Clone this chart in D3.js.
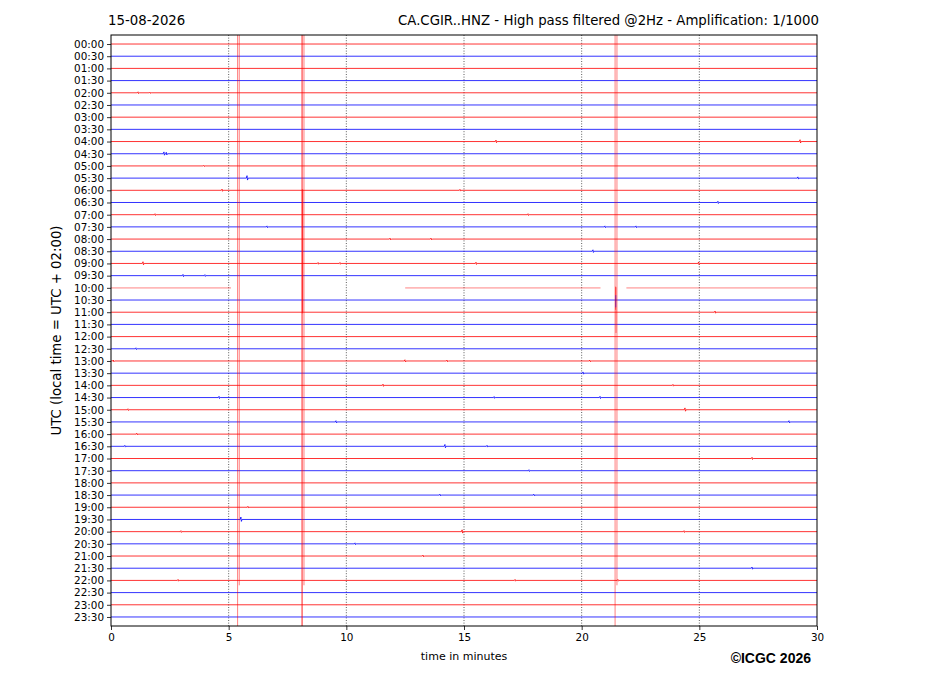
<!DOCTYPE html>
<html>
<head>
<meta charset="utf-8">
<script src="https://cdn.jsdelivr.net/npm/d3@7"></script>
<style>
  body { margin: 0; background: #fff; }
  text { font-family: "DejaVu Sans", sans-serif; }
</style>
</head>
<body>
<div id="helicorder"></div>
<script>
// one row per half hour
const rowLabels = ["00:00","00:30","01:00","01:30","02:00","02:30","03:00","03:30",
  "04:00","04:30","05:00","05:30","06:00","06:30","07:00","07:30",
  "08:00","08:30","09:00","09:30","10:00","10:30","11:00","11:30",
  "12:00","12:30","13:00","13:30","14:00","14:30","15:00","15:30",
  "16:00","16:30","17:00","17:30","18:00","18:30","19:00","19:30",
  "20:00","20:30","21:00","21:30","22:00","22:30","23:00","23:30"];

const minuteTicks = [0, 5, 10, 15, 20, 25, 30];
const gridMinutes = [5, 10, 15, 20, 25];

// recorded stretches (minutes) for rows with gaps
const gaps = [
  {row: 20, segments: [[0, 5.1], [12.5, 20.8], [21.9, 30]]}
];

// small wiggles: [row, minute, amplitude in row units]
const blips = [
  [4, 1.15, 0.08], [4, 1.66, 0.06],
  [8, 16.36, 0.12], [8, 29.28, 0.15],
  [9, 2.25, 0.15], [9, 2.35, 0.12],
  [10, 3.95, 0.06],
  [11, 5.78, 0.2], [11, 29.19, 0.1],
  [12, 4.72, 0.1], [12, 14.83, 0.08],
  [13, 25.79, 0.1],
  [14, 1.87, 0.08], [14, 17.72, 0.08],
  [15, 6.63, 0.08], [15, 20.99, 0.08], [15, 22.31, 0.08],
  [16, 11.86, 0.08], [16, 13.6, 0.08],
  [17, 20.48, 0.12],
  [18, 1.36, 0.14], [18, 8.8, 0.08], [18, 9.73, 0.08], [18, 15.51, 0.1], [18, 24.97, 0.12],
  [19, 3.06, 0.1], [19, 3.99, 0.08],
  [22, 25.67, 0.1],
  [25, 1.06, 0.08],
  [26, 0.1, 0.08], [26, 12.49, 0.1], [26, 14.28, 0.08], [26, 20.35, 0.08],
  [27, 20.06, 0.1],
  [28, 11.56, 0.1], [28, 23.88, 0.08],
  [29, 4.59, 0.1], [29, 16.28, 0.08], [29, 20.78, 0.1],
  [30, 0.72, 0.08], [30, 24.39, 0.15],
  [31, 9.56, 0.1], [31, 28.81, 0.1],
  [32, 1.1, 0.08],
  [33, 0.59, 0.08], [33, 14.19, 0.15], [33, 15.98, 0.08],
  [34, 27.24, 0.1],
  [35, 17.76, 0.08],
  [37, 13.98, 0.08], [37, 17.97, 0.08],
  [38, 5.82, 0.08],
  [39, 5.52, 0.2],
  [40, 2.97, 0.08], [40, 14.92, 0.15], [40, 24.35, 0.08],
  [41, 10.37, 0.08],
  [42, 13.26, 0.08],
  [43, 27.24, 0.1],
  [44, 2.85, 0.08], [44, 17.17, 0.08], [44, 21.54, 0.08]
];

// large excursions: [row, minute, up, down] in row units
const spikes = [
  [0, 5.38, 0.74, 47.74],
  [44, 5.45, 44.74, 0.4],
  [0, 8.12, 0.74, 47.74], [0, 8.12, 0.74, 47.74],
  [44, 8.2, 44.74, 0.4],
  [12, 8.13, 0.1, 10.1], [12, 8.15, 0.05, 10.0],
  [0, 21.42, 0.74, 47.74],
  [44, 21.5, 44.74, 0.4],
  [20, 21.44, 0.1, 1.8], [20, 21.46, 0.05, 3.7],
  [21, 21.45, 0.4, 0.6]
];

const rowColors = ["#ff0000", "#0000ff"];

const width = 927, height = 696;
const margin = {top: 35, left: 111, bottom: 70, right: 110};
const plotWidth = width - margin.left - margin.right;
const plotHeight = height - margin.top - margin.bottom;

const svg = d3.select("#helicorder").append("svg")
    .attr("width", width)
    .attr("height", height);

const plot = svg.append("g")
    .attr("transform", "translate(" + margin.left + "," + margin.top + ")");

let xScale = d3.scaleLinear()
    .domain([0, 30])
    .range([0, plotWidth]);

let yScale = d3.scaleLinear()
    .domain([-0.74, rowLabels.length - 1 + 0.74])
    .range([0, plotHeight]);

plot.append("defs").append("clipPath")
    .attr("id", "plotClip")
    .append("rect")
    .attr("width", plotWidth)
    .attr("height", plotHeight);

// dotted minute grid
plot.append("g").selectAll("line")
    .data(gridMinutes)
    .enter()
    .append("line")
    .attr("x1", d => xScale(d))
    .attr("x2", d => xScale(d))
    .attr("y1", 0)
    .attr("y2", plotHeight)
    .attr("stroke", "#333")
    .attr("stroke-width", 0.8)
    .attr("stroke-dasharray", "1,1.6");

let line = d3.line()
    .x(d => xScale(d[0]))
    .y(d => yScale(d[1]));

function tracePoints(row) {
    let gap = gaps.find(g => g.row === row);
    let segs = gap ? gap.segments : [[0, 30]];
    return segs.map(function (s) {
        let pts = [[s[0], row]];
        blips.filter(b => b[0] === row && b[1] > s[0] && b[1] < s[1])
            .sort((a, b) => a[1] - b[1])
            .forEach(function (b) {
                pts.push([b[1] - 0.03, row]);
                pts.push([b[1], row - b[2]]);
                pts.push([b[1] + 0.02, row + b[2] * 0.8]);
                pts.push([b[1] + 0.05, row]);
            });
        pts.push([s[1], row]);
        return pts;
    });
}

let traces_g = plot.append("g")
    .attr("clip-path", "url(#plotClip)");

rowLabels.forEach(function (label, row) {
    let hasGap = gaps.some(g => g.row === row);
    traces_g.selectAll("path.row" + row)
        .data(tracePoints(row))
        .enter()
        .append("path")
        .attr("class", "row" + row)
        .attr("d", line)
        .attr("fill", "none")
        .attr("stroke", rowColors[row % 2])
        .attr("stroke-opacity", hasGap ? 0.28 : 0.8)
        .attr("stroke-width", hasGap ? 1.6 : 1);
});

traces_g.selectAll("path.spike")
    .data(spikes)
    .enter()
    .append("path")
    .attr("class", "spike")
    .attr("d", d => line([[d[1], d[0] - d[2]], [d[1], d[0] + d[3]]]))
    .attr("fill", "none")
    .attr("stroke", d => rowColors[d[0] % 2])
    .attr("stroke-opacity", 0.5)
    .attr("stroke-width", 1);

// axes
let yAxis = plot.append("g")
    .attr("class", "axis_y")
    .call(d3.axisLeft(yScale)
        .tickValues(d3.range(rowLabels.length))
        .tickFormat(i => rowLabels[i])
        .tickSize(4)
        .tickPadding(3));

let xAxis = plot.append("g")
    .attr("class", "axis_x")
    .attr("transform", "translate(0," + plotHeight + ")")
    .call(d3.axisBottom(xScale)
        .tickValues(minuteTicks)
        .tickFormat(d3.format("d"))
        .tickSize(4)
        .tickPadding(4));

plot.selectAll(".domain").remove();
plot.selectAll(".tick line").attr("stroke", "#000").attr("stroke-width", 0.8);
plot.selectAll(".tick text")
    .attr("fill", "#000")
    .style("font-size", "10.4px")
    .style("font-family", "DejaVu Sans, sans-serif");

plot.append("rect")
    .attr("width", plotWidth)
    .attr("height", plotHeight)
    .attr("fill", "none")
    .attr("stroke", "#000")
    .attr("stroke-width", 1);

// labels
svg.append("text")
    .attr("x", margin.left - 3)
    .attr("y", 25)
    .style("font-size", "13.3px")
    .text("15-08-2026");

svg.append("text")
    .attr("x", margin.left + plotWidth + 2)
    .attr("y", 25)
    .attr("text-anchor", "end")
    .style("font-size", "13.3px")
    .text("CA.CGIR..HNZ - High pass filtered @2Hz - Amplification: 1/1000");

svg.append("text")
    .attr("x", margin.left + plotWidth / 2)
    .attr("y", 660)
    .attr("text-anchor", "middle")
    .style("font-size", "11px")
    .text("time in minutes");

svg.append("text")
    .attr("transform", "translate(61," + (margin.top + plotHeight / 2) + ") rotate(-90)")
    .attr("text-anchor", "middle")
    .style("font-size", "13.3px")
    .text("UTC (local time = UTC + 02:00)");

svg.append("text")
    .attr("x", 811)
    .attr("y", 663)
    .attr("text-anchor", "end")
    .style("font-size", "14px")
    .style("font-weight", "bold")
    .style("font-family", "Liberation Sans, Arial, sans-serif")
    .text("©ICGC 2026");
</script>
</body>
</html>
